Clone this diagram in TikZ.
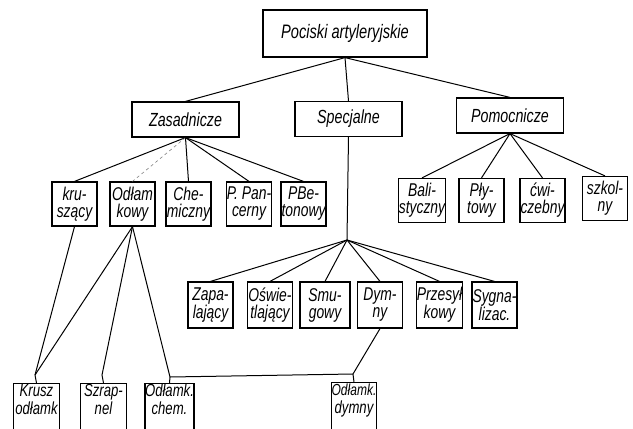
\documentclass[tikz,border=0pt]{standalone}
\usepackage{fontspec}
\setmainfont[FakeStretch=0.75]{Liberation Sans}
\begin{document}
\begin{tikzpicture}[x=1pt,y=-1pt,
  line width=1.1pt,
  box/.style={draw, line width=1.2pt, inner sep=0pt, align=center,
    font=\itshape\fontsize{18.5}{17}\selectfont},
  top/.style={box, minimum width=164pt, minimum height=47pt,
    font=\itshape\fontsize{19.5}{17}\selectfont},
  mid/.style={box, minimum width=107pt, minimum height=35pt,
    font=\itshape\fontsize{19}{17}\selectfont},
  leaf/.style={box, minimum width=45pt, minimum height=44pt},
  cut/.style={box, minimum width=46pt, minimum height=62pt, anchor=north,
    font=\itshape\fontsize{17.5}{18}\selectfont},
  link/.style={line width=1pt},
  faint/.style={line width=0.6pt, gray, dashed}]
\useasboundingbox (0,0) rectangle (633,429);
\fill[white] (0,0) rectangle (633,429);
\clip (0,0) rectangle (633,429);

% root and first level
\node[top] (root) at (345,33.5) {Pociski artyleryjskie};
\node[mid] (zas) at (185.5,119.5) {Zasadnicze};
\node[mid] (spe) at (348.5,119) {Specjalne};
\node[mid] (pom) at (510,115.5) {Pomocnicze};

% children of Zasadnicze
\node[leaf] (kru) at (74.5,204) {kru-\\szący};
\node[leaf] (odl) at (132.5,204) {Odłam\\kowy};
\node[leaf] (che) at (188.5,204) {Che-\\miczny};
\node[leaf] (ppa) at (249,204) {P. Pan-\\cerny};
\node[leaf] (pbe) at (303.5,204) {PBe-\\tonowy};

% children of Pomocnicze
\node[leaf] (bal) at (422,200.5) {Bali-\\styczny};
\node[leaf] (ply) at (481.5,200.5) {Pły-\\towy};
\node[leaf] (cwi) at (542.5,200.5) {ćwi-\\czebny};
\node[leaf] (szk) at (605,198.5) {szkol-\\ny};

% children of Specjalne
\node[leaf, minimum height=46pt] (zap) at (210.5,305) {Zapa-\\lający};
\node[leaf, minimum height=46pt] (osw) at (270,305) {Oświe-\\tlający};
\node[leaf, minimum height=46pt, minimum width=50pt] (smu) at (325,305) {Smu-\\gowy};
\node[leaf, minimum height=46pt] (dym) at (380,305) {Dym-\\ny};
\node[leaf, minimum height=46pt] (prz) at (439.5,305) {Przesył\\kowy};
\node[leaf, minimum height=46pt] (syg) at (494.5,305) {Sygna-\\lizac.};

% bottom row, running past the lower edge
\node[cut] (kro) at (36.5,383) {Krusz\\odłamk\\[12pt]};
\node[cut] (szr) at (103.5,383) {Szrap-\\nel\\[12pt]};
\node[cut] (och) at (169.5,383) {Odłamk.\\chem.\\[12pt]};
\node[cut, minimum width=42pt] (ody) at (354,382) {\fontsize{16}{18}\selectfont Odłamk.\\dymny\\[12pt]};

% junction points
\coordinate (fan) at (347,240);
\coordinate (jk) at (35,375);
\coordinate (js) at (102,375);
\coordinate (jc) at (170,377);
\coordinate (jd) at (353,374);

% connectors
\draw[link] (root.south) -- (zas.north);
\draw[link] (root.south) -- (spe.north);
\draw[link] (root.south) -- (pom.north);

\draw[link] (zas.south) -- (kru.north);
\draw[faint] (zas.south) -- (odl.north);
\draw[link] (zas.south) -- (che.north);
\draw[link] (zas.south) -- (ppa.north);
\draw[link] (zas.south) -- (pbe.north);

\draw[link] (pom.south) -- (bal.north);
\draw[link] (pom.south) -- (ply.north);
\draw[link] (pom.south) -- (cwi.north);
\draw[link] (pom.south) -- (szk.north);

\draw[link] (spe.south) -- (fan);
\foreach \n in {zap,osw,smu,dym,prz,syg}
  \draw[link] (fan) -- (\n.north);

\draw[link] (kru.south) -- (jk);
\draw[link] (odl.south) -- (jk);
\draw[link] (jk) -- (kro.north);
\draw[link] (odl.south) -- (js) -- (szr.north);
\draw[link] (odl.south) -- (jc) -- (och.north);
\draw[link] (dym.south) -- (jd) -- (ody.north);
\draw[link] (jc) -- (jd);
\end{tikzpicture}
\end{document}
